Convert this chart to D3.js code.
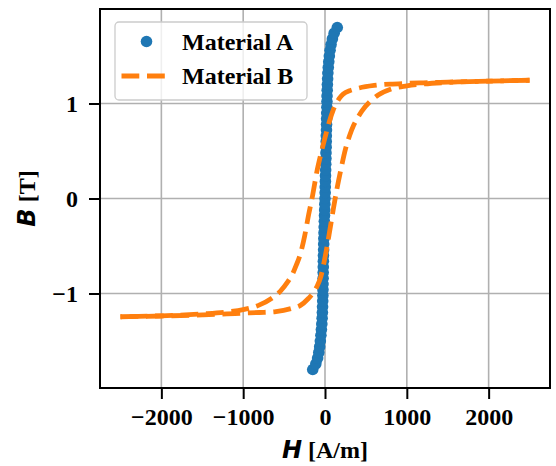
<!DOCTYPE html>
<html>
<head>
<meta charset="utf-8">
<script src="https://cdn.jsdelivr.net/npm/d3@7"></script>
<style>
  body { margin: 0; background: #fff; }
  .tick text { font-family: "Liberation Serif", serif; font-weight: bold; font-size: 24px; fill: #000; }
</style>
</head>
<body>
<div id="chart"></div>
<script>
// Material A: scatter (H in A/m, B in T)
var bA = [-1.80, -1.74, -1.68, -1.62, -1.56, -1.50, -1.44, -1.38, -1.32, -1.26, -1.20, -1.14, -1.08, -1.02, -0.96,
    -0.90, -0.84, -0.78, -0.72, -0.66, -0.60, -0.54, -0.48, -0.42, -0.36, -0.30, -0.24, -0.18, -0.12, -0.06, 0.00,
    0.06, 0.12, 0.18, 0.24, 0.30, 0.36, 0.42, 0.48, 0.54, 0.60, 0.66, 0.72, 0.78, 0.84, 0.90,
    0.96, 1.02, 1.08, 1.14, 1.20, 1.26, 1.32, 1.38, 1.44, 1.50, 1.56, 1.62, 1.68, 1.74, 1.80];
var hA = [-150, -112, -90, -76, -65, -57, -50, -44, -39, -35, -32, -30, -28, -26, -25,
    -24, -23, -22, -21, -20, -19, -17, -16, -14, -12, -10, -8, -6, -4, -2, 0,
    2, 3, 5, 6, 8, 9, 11, 12, 14, 15, 16, 18, 19, 20, 21,
    23, 24, 25, 27, 29, 32, 35, 40, 46, 53, 62, 74, 90, 112, 150];

// Material B: hysteresis loop, descending branch then ascending branch
var hDown = [2500, 2000, 1500, 1200, 1000, 800, 600, 400, 300, 250, 200, 150, 100, 50, 0,
    -50, -100, -150, -200, -250, -300, -350, -400, -450, -550, -650, -800, -1000, -1200, -1500, -2000, -2500];
var bDown = [1.245, 1.235, 1.225, 1.218, 1.212, 1.205, 1.19, 1.16, 1.135, 1.115, 1.08, 1.02, 0.93, 0.80, 0.64,
    0.47, 0.28, 0.04, -0.17, -0.40, -0.58, -0.70, -0.80, -0.87, -0.98, -1.05, -1.12, -1.17, -1.195, -1.215, -1.235, -1.245];
var hUp = [-2500, -2000, -1500, -1200, -1000, -800, -600, -400, -300, -200, -150, -100, -50, 0, 50,
    100, 150, 200, 250, 300, 350, 400, 450, 550, 650, 800, 1000, 1200, 1500, 2000, 2500];
var bUp = [-1.245, -1.237, -1.225, -1.215, -1.207, -1.2, -1.19, -1.155, -1.125, -1.05, -1.0, -0.93, -0.82, -0.62, -0.38,
    -0.12, 0.12, 0.33, 0.52, 0.66, 0.77, 0.85, 0.92, 1.02, 1.09, 1.15, 1.185, 1.205, 1.222, 1.235, 1.245];

var xTicks = [-2000, -1000, 0, 1000, 2000];
var yTicks = [-1, 0, 1];
var seriesNames = ['Material A', 'Material B'];

var width = 556,
    height = 466;
var plotLeft = 100, plotRight = 550, plotTop = 9, plotBottom = 388;
var blue = '#1f77b4', orange = '#ff7f0e';

var svg = d3.select('#chart')
    .append('svg')
    .attr('width', width)
    .attr('height', height)
    .style('background', '#fff');

var x = d3.scaleLinear().domain([-2750, 2750]).range([plotLeft, plotRight]);
var y = d3.scaleLinear().domain([-1.995, 1.995]).range([plotBottom, plotTop]);

// grid
var grid = svg.append('g');
grid.selectAll('.gx').data(xTicks).enter().append('line')
    .attr('x1', function (d) { return x(d); })
    .attr('x2', function (d) { return x(d); })
    .attr('y1', plotTop).attr('y2', plotBottom)
    .attr('stroke', '#b0b0b0').attr('stroke-width', 1.6);
grid.selectAll('.gy').data(yTicks).enter().append('line')
    .attr('y1', function (d) { return y(d); })
    .attr('y2', function (d) { return y(d); })
    .attr('x1', plotLeft).attr('x2', plotRight)
    .attr('stroke', '#b0b0b0').attr('stroke-width', 1.6);

// Material A
var ptsA = hA.map(function (h, i) { return { h: h, b: bA[i] }; });
svg.append('g').selectAll('circle')
    .data(ptsA)
    .enter()
    .append('circle')
    .attr('cx', function (d) { return x(d.h); })
    .attr('cy', function (d) { return y(d.b); })
    .attr('r', 5.8)
    .attr('fill', blue);

// Material B
var line = d3.line()
    .x(function (d) { return x(d[0]); })
    .y(function (d) { return y(d[1]); })
    .curve(d3.curveMonotoneX);
var down = hDown.map(function (h, i) { return [h, bDown[i]]; });
var up = hUp.map(function (h, i) { return [h, bUp[i]]; });
[down, up].forEach(function (branch) {
    svg.append('path')
        .datum(branch)
        .attr('d', line)
        .attr('fill', 'none')
        .attr('stroke', orange)
        .attr('stroke-width', 4.8)
        .attr('stroke-dasharray', '17.8 7.7');
});

// axes
var fmt = d3.format('d');
var xAxis = svg.append('g')
    .attr('transform', 'translate(0,' + plotBottom + ')')
    .call(d3.axisBottom(x).tickValues(xTicks).tickFormat(fmt).tickSize(11).tickPadding(9).tickSizeOuter(0));
var yAxis = svg.append('g')
    .attr('transform', 'translate(' + plotLeft + ',0)')
    .call(d3.axisLeft(y).tickValues(yTicks).tickFormat(fmt).tickSize(11).tickPadding(11).tickSizeOuter(0));
[xAxis, yAxis].forEach(function (g) {
    g.select('.domain').remove();
    g.selectAll('.tick line').attr('stroke', '#000').attr('stroke-width', 2);
});

// frame
svg.append('rect')
    .attr('x', plotLeft).attr('y', plotTop)
    .attr('width', plotRight - plotLeft).attr('height', plotBottom - plotTop)
    .attr('fill', 'none').attr('stroke', '#000').attr('stroke-width', 2);

// axis labels
var xl = svg.append('text')
    .attr('x', (plotLeft + plotRight) / 2)
    .attr('y', 458)
    .attr('text-anchor', 'middle')
    .attr('font-size', 24)
    .attr('font-weight', 'bold');
xl.append('tspan').attr('font-family', 'DejaVu Sans').attr('font-style', 'italic').text('H');
xl.append('tspan').attr('font-family', 'Liberation Serif').text(' [A/m]');

var yl = svg.append('text')
    .attr('transform', 'translate(35,' + (plotTop + plotBottom) / 2 + ') rotate(-90)')
    .attr('text-anchor', 'middle')
    .attr('font-size', 24)
    .attr('font-weight', 'bold');
yl.append('tspan').attr('font-family', 'DejaVu Sans').attr('font-style', 'italic').text('B');
yl.append('tspan').attr('font-family', 'Liberation Serif').text(' [T]');

// legend
var legend = svg.append('g');
legend.append('rect')
    .attr('x', 115).attr('y', 22)
    .attr('width', 192).attr('height', 78)
    .attr('rx', 4)
    .attr('fill', '#fff').attr('fill-opacity', 0.8)
    .attr('stroke', '#cccccc').attr('stroke-width', 1.3);
legend.append('circle')
    .attr('cx', 146.5).attr('cy', 41.5).attr('r', 5.8).attr('fill', blue);
legend.append('line')
    .attr('x1', 121.5).attr('x2', 171.5)
    .attr('y1', 76).attr('y2', 76)
    .attr('stroke', orange).attr('stroke-width', 4.8)
    .attr('stroke-dasharray', '17.8 7.7');
legend.selectAll('.lt')
    .data(seriesNames)
    .enter()
    .append('text')
    .attr('x', 182)
    .attr('y', function (d, i) { return 50 + i * 33.5; })
    .attr('font-family', 'Liberation Serif')
    .attr('font-weight', 'bold')
    .attr('font-size', 24)
    .text(function (d) { return d; });
</script>
</body>
</html>
